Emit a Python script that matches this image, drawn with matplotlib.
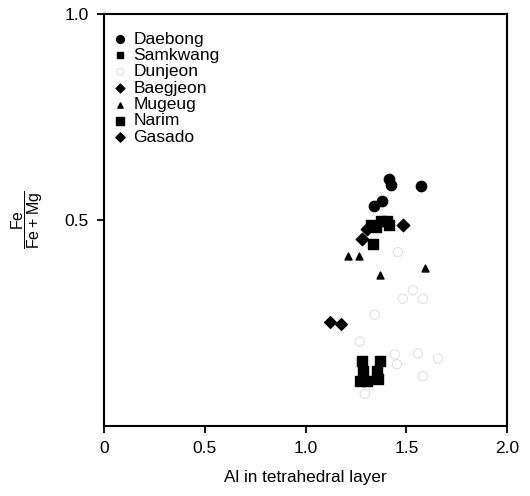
import matplotlib
matplotlib.use("Agg")
import matplotlib.pyplot as plt

plt.rcParams['font.family'] = ['Liberation Sans', 'DejaVu Sans']
plt.rcParams['mathtext.fontset'] = 'custom'
plt.rcParams['mathtext.rm'] = 'Liberation Sans'

# Data (Al in tetrahedral layer, Fe/(Fe+Mg))
daebong_x = [1.413, 1.426, 1.571, 1.340, 1.378]
daebong_y = [0.599, 0.585, 0.582, 0.533, 0.545]

samkwang_x = [1.323, 1.348, 1.373, 1.403, 1.413, 1.333]
samkwang_y = [0.488, 0.483, 0.498, 0.498, 0.486, 0.440]

dunjeon_x = [1.532, 1.582, 1.483, 1.343, 1.269, 1.443, 1.453, 1.557, 1.657, 1.582, 1.294, 1.458]
dunjeon_y = [0.329, 0.308, 0.308, 0.269, 0.204, 0.173, 0.149, 0.175, 0.163, 0.120, 0.077, 0.421]

baegjeon_x = [1.123, 1.174]
baegjeon_y = [0.252, 0.246]

mugeug_x = [1.209, 1.264, 1.368, 1.592]
mugeug_y = [0.411, 0.411, 0.365, 0.382]

narim_x = [1.279, 1.284, 1.368, 1.353, 1.358, 1.269, 1.303]
narim_y = [0.156, 0.132, 0.156, 0.132, 0.113, 0.108, 0.108]

gasado_x = [1.279, 1.303, 1.483]
gasado_y = [0.454, 0.478, 0.488]

x_ticks = [0, 0.5, 1.0, 1.5, 2.0]
x_ticklabels = ['0', '0.5', '1.0', '1.5', '2.0']
y_ticks = [0.5, 1.0]
y_ticklabels = ['0.5', '1.0']

fig = plt.figure(figsize=(5.30, 4.96), dpi=100)
ax = fig.add_axes([0.196, 0.142, 0.761, 0.830])

ax.scatter(daebong_x, daebong_y, marker='o', s=55, c='black', label='Daebong', zorder=3)
ax.scatter(samkwang_x, samkwang_y, marker='s', s=45, c='black', label='Samkwang', zorder=3)
ax.scatter(dunjeon_x, dunjeon_y, marker='o', s=45, facecolors='none', edgecolors='#e2e2e2',
           linewidths=0.8, label='Dunjeon', zorder=2)
ax.scatter(baegjeon_x, baegjeon_y, marker='D', s=35, c='black', label='Baegjeon', zorder=3)
ax.scatter(mugeug_x, mugeug_y, marker='^', s=25, c='black', label='Mugeug', zorder=3)
ax.scatter(narim_x, narim_y, marker='s', s=60, c='black', label='Narim', zorder=3)
ax.scatter(gasado_x, gasado_y, marker='D', s=40, c='black', label='Gasado', zorder=3)

ax.set_xlim(0, 2.0)
ax.set_ylim(0, 1.0)
ax.set_xticks(x_ticks)
ax.set_xticklabels(x_ticklabels)
ax.set_yticks(y_ticks)
ax.set_yticklabels(y_ticklabels)
ax.tick_params(direction='out', length=5, width=1.3, labelsize=12.5, pad=6)
for sp in ax.spines.values():
    sp.set_linewidth(1.5)

ax.set_xlabel('Al in tetrahedral layer', fontsize=12.3, labelpad=10)
ax.set_ylabel(r'$\dfrac{\mathrm{Fe}}{\mathrm{Fe+Mg}}$', fontsize=11.5, rotation=90, labelpad=14)

leg = ax.legend(loc='upper left', bbox_to_anchor=(0.015, 0.97), frameon=False,
                fontsize=12.5, handlelength=0.6, handletextpad=0.45, markerscale=0.75,
                labelspacing=0.07, borderaxespad=0.0, borderpad=0.3)

fig.savefig('out.png', dpi=100)
